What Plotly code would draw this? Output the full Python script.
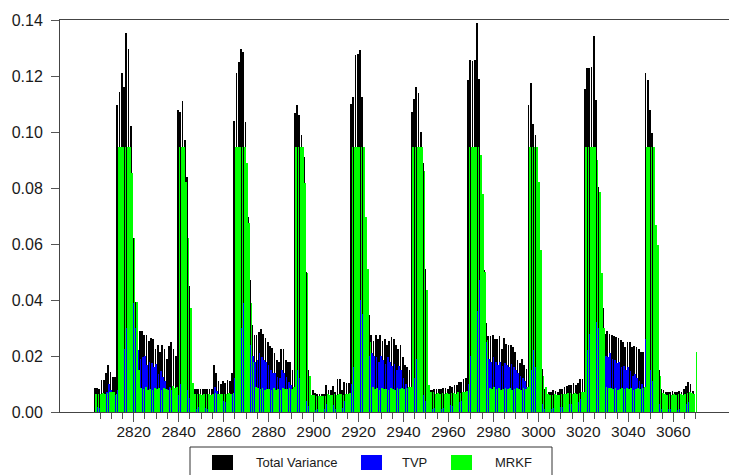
import plotly.graph_objects as go

# ---------------- data ----------------
periods = list(range(2803, 3071))

total_variance = [
    # 2803-2812
    0.0086, 0.0084, 0.0083, 0.0114, 0.0114, 0.0139, 0.0168, 0.0144, 0.0126, 0.0126,
    # 2813-2864
    0.1096, 0.1144, 0.1210, 0.1160, 0.1352, 0.1295, 0.1020, 0.0620, 0.0394, 0.0305,
    0.0288, 0.0288, 0.0276, 0.0274, 0.0255, 0.0264, 0.0262, 0.0226, 0.0238, 0.0214,
    0.0238, 0.0226, 0.0188, 0.0236, 0.0251, 0.0226, 0.0200,
    0.1080, 0.1070, 0.1110, 0.0970, 0.0840, 0.0450, 0.0120,
    0.0083, 0.0083, 0.0081, 0.0081, 0.0082, 0.0081, 0.0082, 0.0081, 0.0082, 0.0167,
    0.0139, 0.0110, 0.0100, 0.0110, 0.0105, 0.0115, 0.0110, 0.0139,
    # 2865-2916
    0.1040, 0.1210, 0.1250, 0.1295, 0.1285, 0.1037, 0.0698, 0.0470, 0.0310,
    0.0275, 0.0275, 0.0287, 0.0296, 0.0280, 0.0265, 0.0250, 0.0237, 0.0230, 0.0210,
    0.0186, 0.0178, 0.0225, 0.0225, 0.0186, 0.0178, 0.0178, 0.0150,
    0.1067, 0.1096, 0.1060, 0.0990, 0.0912, 0.0500, 0.0150,
    0.0079, 0.0079, 0.0067, 0.0066, 0.0065, 0.0065, 0.0065, 0.0096, 0.0079, 0.0079,
    0.0093, 0.0072, 0.0117, 0.0117, 0.0079, 0.0106, 0.0105, 0.0104,
    # 2917-2968
    0.1100, 0.1124, 0.1275, 0.1280, 0.1293, 0.1124, 0.0858, 0.0510, 0.0346,
    0.0276, 0.0255, 0.0276, 0.0262, 0.0274, 0.0255, 0.0262, 0.0238, 0.0255, 0.0267,
    0.0260, 0.0238, 0.0226, 0.0240, 0.0195, 0.0167, 0.0160, 0.0150,
    0.1070, 0.1118, 0.1160, 0.1140, 0.1000, 0.0890, 0.0510, 0.0120,
    0.0080, 0.0080, 0.0082, 0.0083, 0.0082, 0.0083, 0.0085, 0.0085, 0.0083, 0.0094,
    0.0090, 0.0096, 0.0098, 0.0106, 0.0108, 0.0117, 0.0121,
    # 2969-3020
    0.1186, 0.1257, 0.1255, 0.1256, 0.1388, 0.1190, 0.0787, 0.0507, 0.0317,
    0.0270, 0.0272, 0.0275, 0.0261, 0.0260, 0.0270, 0.0226, 0.0265, 0.0244, 0.0240,
    0.0238, 0.0232, 0.0214, 0.0185, 0.0174, 0.0190, 0.0167, 0.0155,
    0.1096, 0.1174, 0.1029, 0.0990, 0.0876, 0.0579, 0.0155,
    0.0083, 0.0077, 0.0073, 0.0073, 0.0080, 0.0075, 0.0071, 0.0083, 0.0083, 0.0089,
    0.0094, 0.0098, 0.0095, 0.0104, 0.0098, 0.0103, 0.0117, 0.0119,
    # 3021-3070
    0.1152, 0.1227, 0.1227, 0.1231, 0.1343, 0.1114, 0.0805, 0.0626, 0.0370,
    0.0277, 0.0288, 0.0277, 0.0274, 0.0271, 0.0267, 0.0264, 0.0258, 0.0249, 0.0232,
    0.0249, 0.0249, 0.0232, 0.0236, 0.0232, 0.0224, 0.0215, 0.0215,
    0.1210, 0.1186, 0.1079, 0.0996, 0.0710, 0.0596, 0.0150,
    0.0083, 0.0079, 0.0071, 0.0071, 0.0071, 0.0075, 0.0071, 0.0071, 0.0075, 0.0071,
    0.0083, 0.0094, 0.0107, 0.0101, 0.0075, 0.0000,
]

tvp = [
    # 2803-2812
    0.0020, 0.0018, 0.0015, 0.0045, 0.0050, 0.0070, 0.0100, 0.0080, 0.0060, 0.0060,
    # 2813-2864
    0.0080, 0.0197, 0.0257, 0.0225, 0.0300, 0.0440, 0.0360, 0.0390, 0.0300, 0.0220,
    0.0190, 0.0197, 0.0200, 0.0168, 0.0180, 0.0175, 0.0160, 0.0170, 0.0135, 0.0145,
    0.0125, 0.0110, 0.0083, 0.0090, 0.0080, 0.0060, 0.0050,
    0.0060, 0.0100, 0.0168, 0.0120, 0.0080, 0.0050, 0.0030,
    0.0015, 0.0012, 0.0018, 0.0010, 0.0020, 0.0015, 0.0012, 0.0018, 0.0030, 0.0090,
    0.0075, 0.0040, 0.0030, 0.0040, 0.0035, 0.0045, 0.0040, 0.0065,
    # 2865-2916
    0.0120, 0.0150, 0.0200, 0.0300, 0.0390, 0.0370, 0.0300, 0.0240, 0.0200,
    0.0180, 0.0185, 0.0210, 0.0197, 0.0186, 0.0178, 0.0167, 0.0150, 0.0140, 0.0140,
    0.0125, 0.0120, 0.0150, 0.0140, 0.0125, 0.0107, 0.0095, 0.0083,
    0.0080, 0.0150, 0.0120, 0.0100, 0.0060, 0.0040, 0.0020,
    0.0012, 0.0015, 0.0008, 0.0010, 0.0008, 0.0010, 0.0012, 0.0030, 0.0015, 0.0012,
    0.0025, 0.0012, 0.0045, 0.0050, 0.0015, 0.0040, 0.0035, 0.0036,
    # 2917-2968
    0.0100, 0.0160, 0.0200, 0.0280, 0.0400, 0.0350, 0.0300, 0.0240, 0.0200,
    0.0210, 0.0200, 0.0197, 0.0180, 0.0200, 0.0185, 0.0170, 0.0195, 0.0180, 0.0165,
    0.0170, 0.0150, 0.0165, 0.0150, 0.0120, 0.0100, 0.0085, 0.0075,
    0.0060, 0.0120, 0.0190, 0.0140, 0.0100, 0.0060, 0.0040, 0.0020,
    0.0010, 0.0012, 0.0015, 0.0010, 0.0018, 0.0012, 0.0015, 0.0020, 0.0015, 0.0025,
    0.0022, 0.0030, 0.0028, 0.0035, 0.0040, 0.0045, 0.0048,
    # 2969-3020
    0.0100, 0.0200, 0.0240, 0.0300, 0.0360, 0.0470, 0.0410, 0.0340, 0.0250,
    0.0190, 0.0180, 0.0195, 0.0180, 0.0168, 0.0180, 0.0164, 0.0175, 0.0168, 0.0160,
    0.0172, 0.0160, 0.0150, 0.0140, 0.0130, 0.0120, 0.0110, 0.0090,
    0.0060, 0.0150, 0.0220, 0.0160, 0.0100, 0.0060, 0.0030,
    0.0012, 0.0010, 0.0010, 0.0012, 0.0015, 0.0012, 0.0010, 0.0018, 0.0018, 0.0022,
    0.0025, 0.0030, 0.0028, 0.0035, 0.0032, 0.0035, 0.0045, 0.0047,
    # 3021-3070
    0.0120, 0.0220, 0.0280, 0.0280, 0.0300, 0.0320, 0.0300, 0.0240, 0.0210,
    0.0200, 0.0195, 0.0210, 0.0190, 0.0185, 0.0175, 0.0180, 0.0160, 0.0165, 0.0150,
    0.0160, 0.0145, 0.0130, 0.0135, 0.0120, 0.0110, 0.0100, 0.0085,
    0.0260, 0.0200, 0.0150, 0.0110, 0.0080, 0.0050, 0.0030,
    0.0012, 0.0010, 0.0008, 0.0010, 0.0009, 0.0012, 0.0010, 0.0008, 0.0012, 0.0010,
    0.0018, 0.0028, 0.0035, 0.0032, 0.0008, 0.0000,
]

mrkf = [
    # 2803-2812
    0.0064, 0.0064, 0.0066, 0.0068, 0.0065, 0.0068, 0.0072, 0.0070, 0.0070, 0.0066,
    # 2813-2864
    0.0947, 0.0947, 0.0947, 0.0947, 0.0947, 0.0947, 0.0855, 0.0620, 0.0394, 0.0150,
    0.0085, 0.0082, 0.0088, 0.0080, 0.0083, 0.0079, 0.0085, 0.0081, 0.0084, 0.0080,
    0.0086, 0.0082, 0.0080, 0.0084, 0.0092, 0.0085, 0.0090,
    0.0947, 0.0947, 0.0947, 0.0820, 0.0620, 0.0370, 0.0103,
    0.0065, 0.0063, 0.0066, 0.0062, 0.0064, 0.0063, 0.0065, 0.0062, 0.0064, 0.0068,
    0.0066, 0.0064, 0.0066, 0.0063, 0.0065, 0.0067, 0.0066, 0.0068,
    # 2865-2916
    0.0947, 0.0947, 0.0947, 0.0947, 0.0947, 0.0890, 0.0675, 0.0390, 0.0180,
    0.0090, 0.0085, 0.0082, 0.0086, 0.0080, 0.0083, 0.0081, 0.0080, 0.0084, 0.0079,
    0.0082, 0.0080, 0.0085, 0.0083, 0.0081, 0.0086, 0.0082, 0.0090,
    0.0947, 0.0947, 0.0947, 0.0947, 0.0817, 0.0496, 0.0129,
    0.0062, 0.0060, 0.0058, 0.0057, 0.0058, 0.0057, 0.0058, 0.0066, 0.0060, 0.0062,
    0.0064, 0.0060, 0.0065, 0.0066, 0.0062, 0.0064, 0.0066, 0.0068,
    # 2917-2968
    0.0947, 0.0947, 0.0947, 0.0947, 0.0947, 0.0947, 0.0698, 0.0510, 0.0250,
    0.0088, 0.0082, 0.0085, 0.0080, 0.0084, 0.0081, 0.0083, 0.0079, 0.0085, 0.0082,
    0.0080, 0.0084, 0.0081, 0.0086, 0.0083, 0.0085, 0.0088, 0.0090,
    0.0947, 0.0947, 0.0947, 0.0947, 0.0947, 0.0860, 0.0436, 0.0095,
    0.0070, 0.0072, 0.0066, 0.0068, 0.0065, 0.0067, 0.0066, 0.0068, 0.0065, 0.0067,
    0.0068, 0.0066, 0.0070, 0.0068, 0.0070, 0.0072, 0.0074,
    # 2969-3020
    0.0947, 0.0947, 0.0947, 0.0947, 0.0947, 0.0918, 0.0780, 0.0500, 0.0256,
    0.0086, 0.0083, 0.0088, 0.0081, 0.0084, 0.0080, 0.0083, 0.0085, 0.0081, 0.0084,
    0.0080, 0.0083, 0.0086, 0.0082, 0.0080, 0.0085, 0.0083, 0.0088,
    0.0947, 0.0947, 0.0947, 0.0947, 0.0820, 0.0580, 0.0130,
    0.0090, 0.0066, 0.0062, 0.0060, 0.0064, 0.0062, 0.0060, 0.0064, 0.0065, 0.0066,
    0.0068, 0.0067, 0.0066, 0.0068, 0.0066, 0.0068, 0.0070, 0.0072,
    # 3021-3070
    0.0947, 0.0947, 0.0947, 0.0947, 0.0947, 0.0900, 0.0787, 0.0495, 0.0300,
    0.0088, 0.0084, 0.0086, 0.0082, 0.0085, 0.0080, 0.0083, 0.0086, 0.0081, 0.0084,
    0.0082, 0.0085, 0.0080, 0.0083, 0.0086, 0.0082, 0.0084, 0.0088,
    0.0947, 0.0947, 0.0947, 0.0947, 0.0669, 0.0596, 0.0129,
    0.0068, 0.0066, 0.0062, 0.0063, 0.0062, 0.0064, 0.0062, 0.0063, 0.0064, 0.0062,
    0.0066, 0.0068, 0.0070, 0.0068, 0.0066, 0.0215,
]

series_names = ["Total Variance", "TVP", "MRKF"]
series_colors = ["#000000", "#0000FF", "#00FF00"]
y_tick_values = [0.00, 0.02, 0.04, 0.06, 0.08, 0.10, 0.12, 0.14]
x_major_ticks = [2820, 2840, 2860, 2880, 2900, 2920, 2940, 2960, 2980, 3000, 3020, 3040, 3060]
x_minor_ticks = list(range(2805, 3071, 5))

assert len(periods) == len(total_variance) == len(tvp) == len(mrkf)

# ---------------- figure ----------------
W, H = 729, 475
ML, MR, MT, MB = 60, 0, 20, 63
PW, PH = W - ML - MR, H - MT - MB

def px_x(p):
    return (p - ML) / PW

def px_y(p):
    return (H - MB - p) / PH

fig = go.Figure()
for name, vals, col in zip(series_names, [total_variance, tvp, mrkf], series_colors):
    fig.add_trace(go.Bar(x=periods, y=vals, name=name,
                         marker=dict(color=col, line=dict(width=0)),
                         showlegend=False))

FONT = "Arial, 'Liberation Sans', sans-serif"
fig.update_layout(
    width=W, height=H,
    margin=dict(l=ML, r=MR, t=MT, b=MB, pad=0),
    barmode="group", bargap=0, bargroupgap=0,
    plot_bgcolor="white", paper_bgcolor="white",
    showlegend=False,
    font=dict(family=FONT, color="#1a1a1a"),
)
fig.update_xaxes(
    range=[2787.2, 3084.8],
    tickmode="array", tickvals=x_major_ticks,
    ticktext=[str(v) for v in x_major_ticks],
    ticks="outside", ticklen=9, tickwidth=1, tickcolor="#555555",
    tickfont=dict(size=15.5, family=FONT, color="#1a1a1a"),
    ticklabelstandoff=-4,
    showline=True, linecolor="#444444", linewidth=1, mirror=True,
    showgrid=False, zeroline=False,
    minor=dict(tickmode="array", tickvals=x_minor_ticks, ticks="outside",
               ticklen=6, tickwidth=1, tickcolor="#555555", showgrid=False),
)
fig.update_yaxes(
    range=[0, 0.14],
    tickmode="array", tickvals=y_tick_values, tickformat=".2f",
    ticks="outside", ticklen=8, tickwidth=1, tickcolor="#555555",
    tickfont=dict(size=16, family=FONT, color="#1a1a1a"),
    ticklabelstandoff=5,
    showline=True, linecolor="#444444", linewidth=1, mirror=False,
    showgrid=False, zeroline=False,
)

# legend drawn below the plot (box partly cut off by the picture edge)
shapes = [dict(type="rect", xref="paper", yref="paper",
               x0=px_x(190), x1=px_x(552), y0=px_y(485), y1=px_y(447),
               line=dict(color="#333333", width=1), fillcolor="rgba(0,0,0,0)")]
legend_swatch_x = [212, 361, 451]
legend_text_x = [255, 401, 494]
annotations = []
for name, col, sx, tx in zip(series_names, series_colors, legend_swatch_x, legend_text_x):
    shapes.append(dict(type="rect", xref="paper", yref="paper",
                       x0=px_x(sx), x1=px_x(sx + 21), y0=px_y(470), y1=px_y(455),
                       line=dict(width=0), fillcolor=col))
    annotations.append(dict(xref="paper", yref="paper", x=px_x(tx), y=px_y(462.5),
                            text=name, showarrow=False, xanchor="left", yanchor="middle",
                            borderpad=0, font=dict(size=13, family=FONT, color="#1a1a1a")))
fig.update_layout(shapes=shapes, annotations=annotations)

fig.write_html("out.html", config={"displayModeBar": False},
               post_script="document.body.style.margin='0';document.body.style.overflow='hidden';")
